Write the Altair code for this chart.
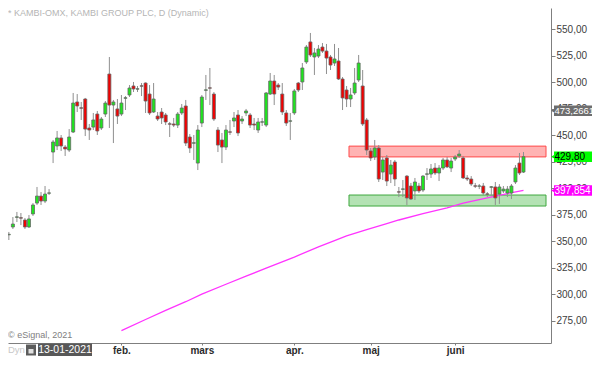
import altair as alt
import pandas as pd

# ---------------- data ----------------
opens = [354.9, 356.0, 363.4, 372.5, 372.2, 370.0, 363.4, 375.7, 386.0, 392.6,
         387.9, 395.3, 434.2, 439.9, 447.5, 438.9, 436.1, 453.1, 481.5, 476.0,
         484.3, 456.9, 457.8, 470.1, 456.9, 470.1, 507.9, 478.6, 474.9, 470.1,
         485.0, 488.1, 496.6, 493.6, 496.8, 499.4, 489.0, 472.0, 468.2, 472.0,
         469.2, 460.9, 460.7, 459.7, 471.1, 477.7, 448.4, 442.5, 423.8, 461.6,
         492.5, 494.9, 489.0, 455.0, 445.6, 438.9, 453.3, 463.5, 469.2, 463.5,
         471.1, 469.2, 460.7, 455.0, 462.4, 459.7, 489.0, 501.3, 497.5, 489.0,
         471.1, 463.3, 471.1, 499.4, 500.4, 519.3, 538.2, 524.0, 524.9, 533.4,
         529.6, 524.0, 518.3, 520.2, 503.2, 492.8, 484.3, 490.0, 502.3, 496.6,
         464.5, 435.2, 429.5, 438.0, 415.3, 428.6, 413.4, 424.8, 396.7, 399.0,
         411.5, 402.1, 397.4, 402.1, 398.3, 413.2, 413.4, 419.1, 414.4, 419.1,
         426.7, 419.1, 427.6, 430.5, 428.6, 409.7, 408.7, 402.3, 401.9, 402.1,
         394.7, 400.9, 401.2, 394.5, 397.4, 395.5, 395.5, 405.9, 423.8, 415.3]
highs = [356.8, 358.7, 372.8, 377.6, 376.6, 371.9, 374.7, 386.0, 401.2, 396.4,
         402.1, 399.2, 445.6, 454.1, 450.3, 440.8, 455.9, 490.0, 489.0, 481.5,
         485.3, 460.7, 471.1, 473.0, 467.3, 482.4, 524.0, 483.4, 484.3, 488.1,
         487.1, 497.5, 500.4, 496.6, 499.4, 500.0, 497.5, 499.4, 472.0, 475.8,
         471.1, 462.6, 466.4, 472.0, 479.6, 483.4, 451.2, 450.3, 459.7, 488.1,
         507.0, 513.6, 490.9, 457.8, 452.2, 459.7, 464.5, 472.0, 473.9, 468.2,
         474.9, 471.1, 466.4, 466.4, 466.4, 490.9, 508.9, 507.0, 499.4, 499.4,
         473.9, 471.1, 493.8, 500.4, 518.3, 535.3, 546.7, 532.5, 535.3, 537.2,
         536.3, 525.9, 536.3, 532.5, 505.1, 496.6, 494.7, 513.6, 525.9, 511.7,
         466.4, 438.0, 445.6, 440.8, 429.5, 431.4, 426.7, 426.7, 401.2, 407.8,
         412.4, 405.0, 409.7, 405.0, 412.4, 419.1, 422.9, 423.8, 421.9, 428.6,
         429.5, 428.6, 431.4, 436.1, 430.5, 412.4, 411.5, 405.0, 404.0, 405.0,
         396.4, 402.1, 405.9, 403.9, 402.1, 402.1, 404.0, 421.9, 433.3, 434.2]
lows = [351.1, 351.1, 361.5, 368.1, 365.2, 361.5, 362.5, 373.8, 384.2, 384.2,
        386.0, 393.6, 423.8, 436.1, 435.2, 430.5, 434.2, 452.2, 472.0, 464.5,
        449.3, 445.6, 455.0, 450.3, 455.0, 467.3, 456.9, 442.7, 460.7, 468.2,
        473.9, 486.2, 490.9, 490.9, 487.1, 471.1, 469.2, 471.1, 463.5, 460.7,
        459.7, 448.4, 457.8, 456.9, 469.2, 439.9, 433.3, 426.7, 417.2, 457.8,
        483.4, 478.6, 463.5, 434.2, 423.8, 436.1, 450.3, 457.8, 449.3, 460.7,
        468.2, 456.9, 455.0, 452.2, 458.8, 457.8, 488.1, 478.6, 492.8, 469.2,
        458.8, 445.6, 469.2, 490.9, 492.8, 517.4, 524.0, 507.0, 523.0, 527.8,
        507.9, 511.7, 515.5, 502.3, 473.9, 476.7, 476.7, 488.1, 500.4, 458.8,
        431.4, 425.7, 426.7, 405.9, 407.8, 402.1, 404.9, 402.1, 391.7, 391.7,
        384.2, 388.9, 388.9, 395.5, 396.4, 407.8, 409.7, 412.5, 406.8, 417.2,
        419.1, 415.3, 425.7, 428.6, 408.7, 406.8, 402.1, 400.2, 399.2, 393.6,
        391.7, 392.6, 384.2, 385.2, 395.5, 391.7, 389.8, 404.0, 412.5, 414.4]
closes = [353.0, 356.5, 366.2, 373.0, 371.7, 363.4, 371.0, 384.2, 392.6, 387.9,
          394.5, 395.6, 443.7, 447.5, 439.9, 437.1, 448.4, 480.5, 477.7, 475.6,
          455.9, 455.0, 464.5, 454.1, 465.4, 480.5, 478.6, 481.5, 468.2, 480.5,
          485.5, 494.7, 493.8, 494.0, 496.4, 482.4, 471.1, 484.3, 465.4, 466.4,
          462.6, 460.5, 459.7, 470.1, 475.8, 442.7, 438.0, 443.0, 455.0, 486.2,
          493.0, 494.5, 465.4, 440.8, 438.9, 455.0, 452.9, 466.4, 452.2, 465.4,
          473.0, 459.7, 459.7, 462.6, 462.8, 490.0, 501.3, 489.0, 495.6, 472.0,
          461.6, 463.7, 491.9, 492.8, 513.6, 533.4, 525.9, 527.8, 531.5, 529.6,
          523.0, 516.4, 522.1, 503.2, 485.3, 484.3, 488.1, 499.4, 518.3, 460.7,
          436.1, 428.6, 438.0, 408.7, 426.7, 406.8, 421.9, 408.7, 396.3, 399.4,
          390.8, 389.8, 405.9, 397.4, 411.5, 413.6, 418.2, 414.4, 419.1, 426.7,
          420.1, 425.7, 429.5, 432.3, 409.7, 408.7, 404.0, 401.9, 402.2, 395.5,
          394.3, 401.4, 390.8, 401.2, 399.2, 399.2, 402.1, 419.1, 414.4, 429.8]

# moving average (magenta), read at a number of points along the line
ma_idx = [29, 35, 40, 45, 49, 55, 60, 65, 72, 78, 82, 85, 90, 95, 98,
          104, 110, 114, 120, 125, 129]
ma_val = [265.5, 276.0, 284.6, 292.8, 300.0, 309.3, 316.9, 324.5, 335.0, 344.7,
          350.5, 355.0, 361.0, 366.5, 370.0, 376.0, 381.5, 386.0, 391.0, 395.0, 397.9]

month_idx = [29, 49, 72, 91, 112]
month_lbl = ["feb.", "mars", "apr.", "maj", "juni"]
y_ticks = [250, 275, 300, 325, 350, 375, 400, 425, 450, 475, 500, 525, 550]

zone_start = 85.6
red_zone = [429.6, 439.8]
green_zone = [383.2, 393.6]

tag_values = [473.26612, 429.80, 397.854]
tag_labels = ["473,26612", "429,80", "397,854"]

# ---------------- chart ----------------
FONT = "Liberation Sans"
X_DOMAIN = [2.03, 134.6]
Y_DOMAIN = [253.8, 570.28]
W, H = 543, 335

n = len(opens)
candles = pd.DataFrame({"i": list(range(n)), "open": opens, "high": highs,
                        "low": lows, "close": closes})
ma = pd.DataFrame({"i": ma_idx, "v": ma_val})

month_expr = " : ".join(f"datum.value == {i} ? '{l}'" for i, l in zip(month_idx, month_lbl)) + " : ''"

x_axis = alt.Axis(title=None, orient="bottom", values=month_idx, labelExpr=month_expr,
                  grid=False, domainColor="#7f7f7f", tickColor="#7f7f7f", tickSize=2,
                  labelFont=FONT, labelFontSize=10, labelFontWeight="bold",
                  labelColor="#2b2b2b", labelPadding=0, labelFlush=False, labelOverlap=False)
y_axis = alt.Axis(title=None, orient="right", values=y_ticks,
                  labelExpr="replace(format(datum.value, '.2f'), '.', ',')",
                  grid=False, domainColor="#7f7f7f", tickColor="#7f7f7f", tickSize=4,
                  labelPadding=1, labelFont=FONT, labelFontSize=10, labelColor="#404040",
                  labelFlush=False, labelOverlap=False)


def X(f):
    return alt.X(f"{f}:Q", scale=alt.Scale(domain=X_DOMAIN, nice=False, zero=False), axis=x_axis)


def Y(f):
    return alt.Y(f"{f}:Q", scale=alt.Scale(domain=Y_DOMAIN, nice=False, zero=False), axis=y_axis)


zones_df = pd.DataFrame({"x0": [zone_start, zone_start], "x1": [X_DOMAIN[1]] * 2,
                         "lo": [red_zone[0], green_zone[0]], "hi": [red_zone[1], green_zone[1]],
                         "z": ["red", "green"]})

red_rect = alt.Chart(zones_df).transform_filter("datum.z == 'red'").mark_rect(
    fill="#ffb3b3", stroke="#ff4a4a", strokeWidth=1).encode(
    x=X("x0"), x2="x1", y=Y("lo"), y2="hi")
green_rect = alt.Chart(zones_df).transform_filter("datum.z == 'green'").mark_rect(
    fill="#b4e2b4", stroke="#3fa83f", strokeWidth=1).encode(
    x=X("x0"), x2="x1", y=Y("lo"), y2="hi")

ma_line = alt.Chart(ma).mark_line(color="#ff33ff", strokeWidth=1.3).encode(x=X("i"), y=Y("v"))

wicks = alt.Chart(candles).mark_rule(color="#8f8f8f", strokeWidth=1).encode(
    x=X("i"), y=Y("low"), y2="high")

bodies = alt.Chart(candles).mark_bar(width=3, stroke="#666666", strokeWidth=0.8).encode(
    x=X("i"), y=Y("open"), y2="close",
    color=alt.condition("datum.close >= datum.open", alt.value("#1ee61e"), alt.value("#f20000")))

tag_df = pd.DataFrame({"v": tag_values, "label": tag_labels, "k": [0, 1, 2]})
tag_styles = [("#6e6e6e", "#ffffff"), ("#00ff00", "#000000"), ("#ff00ff", "#ffffff")]
tag_sizes = [9.5, 10, 10]
tag_layers = []
for k, (bg, fg) in enumerate(tag_styles):
    base = alt.Chart(tag_df).transform_filter(f"datum.k == {k}").transform_calculate(
        lo="datum.v - 5.0", hi="datum.v + 5.0")
    tag_layers.append(base.mark_rect(fill=bg).encode(
        x=alt.value(546), x2=alt.value(600), y=Y("lo"), y2="hi"))
    tag_layers.append(base.mark_point(shape="triangle-left", filled=True, size=45,
                                      opacity=1, color=bg).encode(x=alt.value(546), y=Y("v")))
    tag_layers.append(base.mark_text(align="left", baseline="middle", font=FONT,
                                     fontSize=tag_sizes[k], color=fg).encode(
        x=alt.value(546.5), y=Y("v"), text="label:N"))

txt = pd.DataFrame({"t": ["* KAMBI-OMX, KAMBI GROUP PLC, D (Dynamic)", "© eSignal, 2021",
                          "Dyn", "13-01-2021"], "k": [0, 1, 2, 3]})
BOT = H  # bottom edge of the plot area
title_t = alt.Chart(txt).transform_filter("datum.k == 0").mark_text(
    align="left", baseline="top", font=FONT, fontSize=9, color="#b5b5b5").encode(
    x=alt.value(0), y=alt.value(1), text="t:N")
esig_t = alt.Chart(txt).transform_filter("datum.k == 1").mark_text(
    align="left", baseline="middle", font=FONT, fontSize=9, color="#808080").encode(
    x=alt.value(0), y=alt.value(BOT - 8), text="t:N")
dyn_t = alt.Chart(txt).transform_filter("datum.k == 2").mark_text(
    align="left", baseline="middle", font=FONT, fontSize=9.5, color="#c8c8c8").encode(
    x=alt.value(0), y=alt.value(BOT + 7), text="t:N")
lock_box = alt.Chart(txt).transform_filter("datum.k == 2").mark_rect(fill="#5c5c5c").encode(
    x=alt.value(18), x2=alt.value(28), y=alt.value(BOT + 1.5), y2=alt.value(BOT + 12.5))
lock_in = alt.Chart(txt).transform_filter("datum.k == 2").mark_rect(fill="#e0e0e0").encode(
    x=alt.value(20.5), x2=alt.value(25.5), y=alt.value(BOT + 6), y2=alt.value(BOT + 10.5))
date_box = alt.Chart(txt).transform_filter("datum.k == 3").mark_rect(fill="#585858").encode(
    x=alt.value(30), x2=alt.value(84), y=alt.value(BOT + 0.5), y2=alt.value(BOT + 13))
date_t = alt.Chart(txt).transform_filter("datum.k == 3").mark_text(
    align="center", baseline="middle", font=FONT, fontSize=10.5, color="#ffffff").encode(
    x=alt.value(57), y=alt.value(BOT + 7), text="t:N")

chart = alt.layer(red_rect, green_rect, ma_line, wicks, bodies, *tag_layers,
                  title_t, esig_t, dyn_t, lock_box, lock_in, date_box, date_t).properties(
    width=W, height=H,
    autosize=alt.AutoSizeParams(type="none"),
    padding={"left": 0, "top": 0, "right": 41, "bottom": 13},
).configure_view(strokeWidth=0)

chart.save("out.html", embed_options={"renderer": "svg", "actions": False})
